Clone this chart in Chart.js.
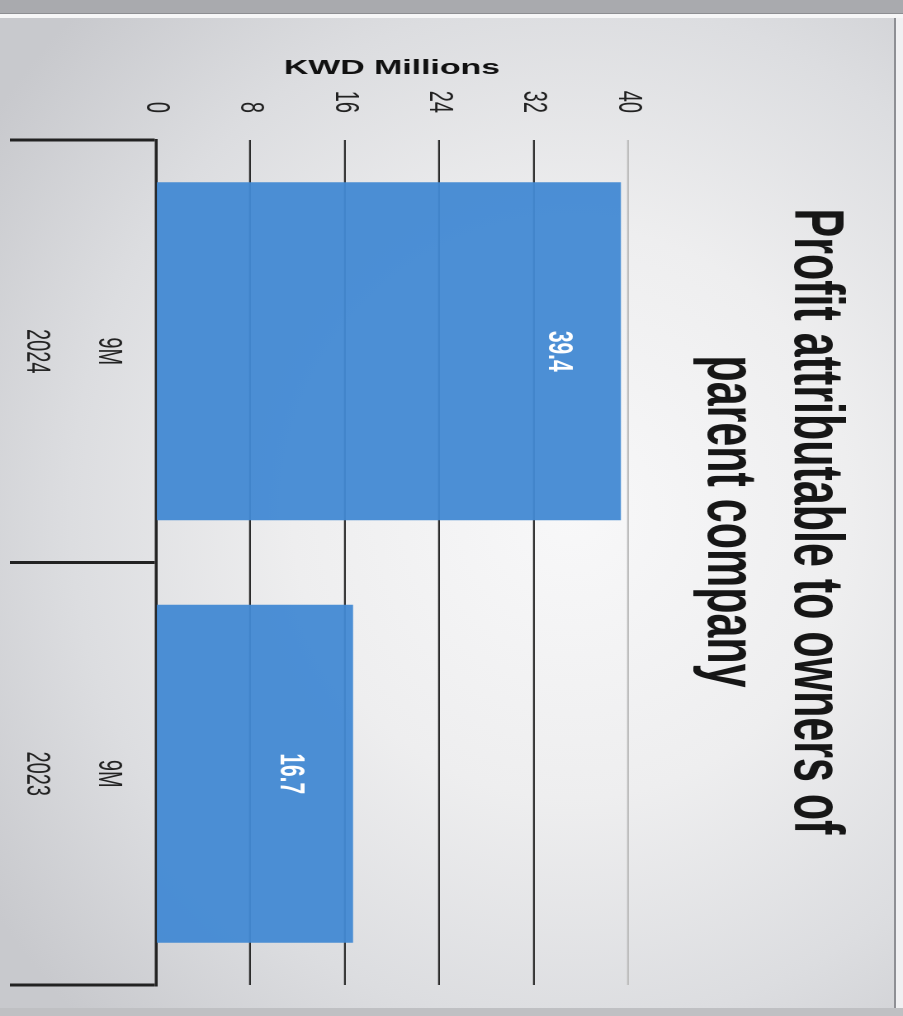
<!DOCTYPE html>
<html>
<head>
<meta charset="utf-8">
<script src="https://cdn.jsdelivr.net/npm/chart.js@4.4.1/dist/chart.umd.min.js"></script>
<style>
  html, body { margin: 0; padding: 0; width: 903px; height: 1016px; overflow: hidden; background: #bfc0c3; }
  #topband { position: absolute; left: 0; top: 0; width: 903px; height: 13px; background: #a9aaae; border-bottom: 1px solid #8d8e92; }
  #gap { position: absolute; left: 0; top: 14px; width: 903px; height: 4px; background: #f6f6f7; }
  #rightstrip { position: absolute; left: 894px; top: 18px; width: 9px; height: 990px; background: #f0f0f2; border-left: 2px solid #8e8f94; box-sizing: border-box; }
  #panel { position: absolute; left: 0; top: 18px; width: 894px; height: 990px;
    background: radial-gradient(ellipse 78% 72% at 64% 50%, #f8f8f9 0%, #eeeeef 40%, #dcdde0 72%, #c8c9cd 100%); }
  #wrap { position: absolute; left: 0; top: 0; width: 1016px; height: 547px;
    transform-origin: 0 0; transform: translateX(903px) rotate(90deg) scale(1, 1.6508); }
  #c { display: block; }
</style>
</head>
<body>
<div id="topband"></div>
<div id="gap"></div>
<div id="panel"></div>
<div id="rightstrip"></div>
<div id="wrap"><canvas id="c" width="1016" height="547"></canvas></div>
<script>
// ---- data ----
const periodLabels = ["9M", "9M"];
const yearLabels = ["2024", "2023"];
const profitValues = [39.4, 16.7];
const valueTicks = [0, 8, 16, 24, 32, 40];
const chartTitle = ["Profit attributable to owners of", "parent company"];
const axisTitle = "KWD Millions";

const categories = periodLabels.map((p, i) => [p, yearLabels[i]]);

Chart.defaults.font.family = '"Liberation Sans", Arial, sans-serif';
Chart.defaults.color = '#222';

const barLabels = {
  id: 'barLabels',
  afterDatasetsDraw(chart) {
    const ctx = chart.ctx;
    const meta = chart.getDatasetMeta(0);
    ctx.save();
    ctx.font = 'bold 21px "Liberation Sans", Arial, sans-serif';
    ctx.fillStyle = '#ffffff';
    ctx.textAlign = 'center';
    ctx.textBaseline = 'middle';
    meta.data.forEach((bar, i) => {
      ctx.fillText(profitValues[i].toFixed(1), bar.x, bar.y + 38);
    });
    ctx.restore();
  }
};

new Chart(document.getElementById('c'), {
  type: 'bar',
  data: {
    labels: categories,
    datasets: [{
      data: profitValues,
      backgroundColor: 'rgba(66,137,211,0.95)',
      borderWidth: 0,
      barPercentage: 0.8,
      categoryPercentage: 1.0
    }]
  },
  options: {
    responsive: false,
    animation: false,
    devicePixelRatio: 2,
    layout: { padding: { left: 58, right: 31, top: 0, bottom: 0 } },
    plugins: {
      legend: { display: false },
      tooltip: { enabled: false },
      title: {
        display: true,
        text: chartTitle,
        color: '#161616',
        font: { size: 43, weight: 'bold', lineHeight: '52.5px' },
        padding: { top: 27.25, bottom: 34.35 }
      }
    },
    scales: {
      x: {
        grid: {
          display: true,
          offset: true,
          drawOnChartArea: false,
          drawTicks: true,
          tickLength: 88.5,
          color: '#222',
          lineWidth: 3
        },
        border: { display: true, color: '#222', width: 1.8 },
        ticks: {
          color: '#222',
          font: { size: 20, lineHeight: '43.6px' },
          padding: -81.2,
          maxRotation: 0,
          minRotation: 0,
          autoSkip: false
        },
        afterFit(s) { s.height = 94.5; }
      },
      y: {
        min: 0,
        max: 40,
        afterBuildTicks(s) { s.ticks = valueTicks.map(v => ({ value: v })); },
        grid: {
          drawTicks: false,
          color: (c) => c.tick && c.tick.value === 40 ? '#bdbdbd' : (c.tick && c.tick.value === 0 ? 'rgba(0,0,0,0)' : '#2b2b2b'),
          lineWidth: 1.1
        },
        border: { display: false },
        ticks: {
          color: '#222',
          font: { size: 20 },
          padding: 27
        },
        title: {
          display: true,
          text: axisTitle,
          color: '#111',
          font: { size: 20.5, weight: 'bold', lineHeight: 1 },
          padding: { top: 0, bottom: 0 }
        },
        afterFit(s) { s.width = 82; }
      }
    }
  },
  plugins: [barLabels]
});
</script>
</body>
</html>
